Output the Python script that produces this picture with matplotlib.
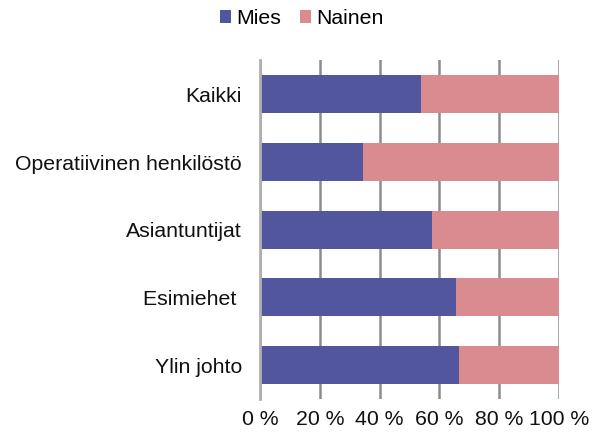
import matplotlib
matplotlib.use("Agg")
import matplotlib.pyplot as plt
import numpy as np

categories = ["Kaikki", "Operatiivinen henkilöstö", "Asiantuntijat", "Esimiehet ", "Ylin johto"]
mies = [54.0, 34.6, 57.4, 65.4, 66.4]
nainen = [100 - v for v in mies]
xticks = [0, 20, 40, 60, 80, 100]
xticklabels = ["0 %", "20 %", "40 %", "60 %", "80 %", "100 %"]

plt.rcParams['font.family'] = ['Liberation Sans', 'DejaVu Sans']

fs = 15.3
fig = plt.figure(figsize=(6.04, 4.34), dpi=100)
ax = fig.add_axes([260/604, 1 - 399/434, 299/604, 338.5/434])

y = np.arange(len(categories))
blue = "#52569E"
pink = "#D98B8F"
ax.barh(y, mies, height=0.56, color=blue, label="Mies", zorder=3)
ax.barh(y, nainen, left=mies, height=0.56, color=pink, label="Nainen", zorder=3)

ax.set_ylim(len(categories) - 0.5, -0.5)
ax.set_xlim(0, 100)
ax.set_yticks(y)
ax.set_yticklabels(categories, fontsize=fs, color="#111111")
ax.set_xticks(xticks)
ax.set_xticklabels(xticklabels, fontsize=fs, color="#111111")
ax.tick_params(axis='y', length=0, pad=13)
ax.tick_params(axis='x', length=0, pad=8)

ax.grid(axis='x', color="#8c8c8c", linewidth=1.8, zorder=1)
for s in ["top", "right", "bottom"]:
    ax.spines[s].set_visible(False)
ax.spines["left"].set_color("#b0b0b0")
ax.spines["left"].set_linewidth(2.0)
ax.spines["left"].set_zorder(4)

leg = fig.legend(loc="center", bbox_to_anchor=(0.5, 1 - 18.5/434), ncol=2, frameon=False,
                 fontsize=fs, handlelength=0.52, handleheight=0.52, handletextpad=0.24,
                 columnspacing=0.9)

fig.savefig("out.png", dpi=100)
